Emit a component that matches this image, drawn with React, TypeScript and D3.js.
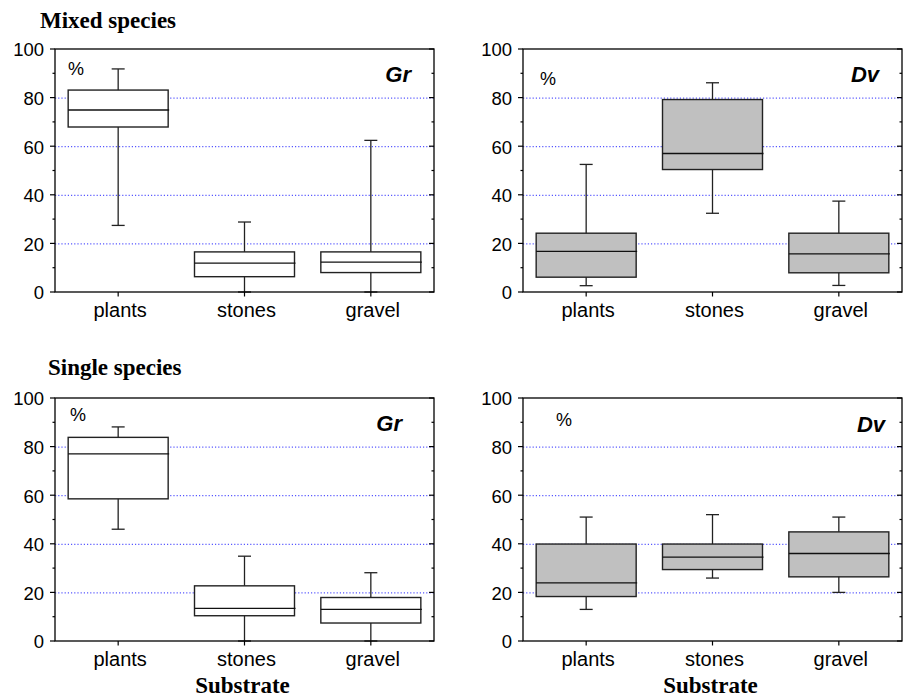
import { useEffect, useRef } from 'react';
import * as d3 from 'd3';

// box stats per substrate: [low whisker, Q1, median, Q3, high whisker]
const categories = ['plants', 'stones', 'gravel'];
const mixedGr = [
    [27.4, 67.9, 74.9, 83.1, 91.8],
    [0, 6.3, 11.9, 16.5, 28.8],
    [0, 8.0, 12.3, 16.5, 62.4],
];
const mixedDv = [
    [2.6, 6.1, 16.7, 24.2, 52.5],
    [32.4, 50.4, 57.0, 79.2, 86.1],
    [2.7, 7.9, 15.7, 24.2, 37.4],
];
const singleGr = [
    [46.0, 58.5, 77.0, 83.8, 88.1],
    [0, 10.4, 13.4, 22.7, 34.9],
    [0, 7.4, 13.0, 17.9, 28.1],
];
const singleDv = [
    [13.0, 18.3, 23.9, 39.9, 51.0],
    [25.9, 29.4, 34.5, 39.9, 52.0],
    [20.0, 26.4, 36.0, 44.9, 51.0],
];
const yTicks = [0, 20, 40, 60, 80, 100];
const yMinor = [10, 30, 50, 70, 90];
const gridLines = [20, 40, 60, 80];

const W = 906, H = 697;
const PW = 379, PH = 243;

const panels = [
    { data: mixedGr, label: 'Gr', fill: '#ffffff', x: 55, y: 49, pct: [13, 26], sp: [23, 33], title: 'Mixed species', titlePos: [40, 28] },
    { data: mixedDv, label: 'Dv', fill: '#c0c0c0', x: 523, y: 49, pct: [17, 36], sp: [23, 33] },
    { data: singleGr, label: 'Gr', fill: '#ffffff', x: 55, y: 398, pct: [15, 23], sp: [32, 33], title: 'Single species', titlePos: [48, 375], xTitle: 'Substrate' },
    { data: singleDv, label: 'Dv', fill: '#c0c0c0', x: 523, y: 398, pct: [33, 28], sp: [17, 34], xTitle: 'Substrate' },
];

const SANS = '"Liberation Sans", Arial, Helvetica, sans-serif';
const SERIF = '"Liberation Serif", "Times New Roman", serif';

function App() {
    const svgRef = useRef(null);

    useEffect(() => {
        const svg = d3.select(svgRef.current);
        svg.selectAll('*').remove();

        const x = d3.scaleBand().domain(categories).range([0, PW]).padding(0);
        const y = d3.scaleLinear().domain([0, 100]).range([PH, 0]);
        const boxW = 100;
        const capW = 13;

        panels.forEach((p) => {
            if (p.title) {
                svg.append('text')
                    .attr('x', p.titlePos[0])
                    .attr('y', p.titlePos[1])
                    .attr('font-family', SERIF)
                    .attr('font-weight', 'bold')
                    .attr('font-size', 23)
                    .text(p.title);
            }

            const g = svg.append('g').attr('transform', `translate(${p.x},${p.y})`);

            // dotted grid
            g.selectAll('.grid')
                .data(gridLines)
                .enter().append('line')
                .attr('x1', 0).attr('x2', PW)
                .attr('y1', (d) => y(d) + 0.5).attr('y2', (d) => y(d) + 0.5)
                .attr('stroke', '#2f2fff')
                .attr('stroke-width', 1)
                .attr('stroke-dasharray', '1.2,2');

            // boxes
            const box = g.selectAll('.box')
                .data(p.data)
                .enter().append('g')
                .attr('transform', (d, i) => `translate(${x(categories[i]) + x.bandwidth() / 2},0)`);

            box.append('line')
                .attr('x1', 0).attr('x2', 0)
                .attr('y1', (d) => y(d[0])).attr('y2', (d) => y(d[4]))
                .attr('stroke', '#222').attr('stroke-width', 1.3);
            box.append('line')
                .attr('x1', -capW / 2).attr('x2', capW / 2)
                .attr('y1', (d) => y(d[4])).attr('y2', (d) => y(d[4]))
                .attr('stroke', '#222').attr('stroke-width', 1.3);
            box.append('line')
                .attr('x1', -capW / 2).attr('x2', capW / 2)
                .attr('y1', (d) => y(d[0])).attr('y2', (d) => y(d[0]))
                .attr('stroke', '#222').attr('stroke-width', 1.3);
            box.append('rect')
                .attr('x', -boxW / 2)
                .attr('width', boxW)
                .attr('y', (d) => y(d[3]))
                .attr('height', (d) => y(d[1]) - y(d[3]))
                .attr('fill', p.fill)
                .attr('stroke', '#222')
                .attr('stroke-width', 1.4);
            box.append('line')
                .attr('x1', -boxW / 2).attr('x2', boxW / 2 + 1)
                .attr('y1', (d) => y(d[2])).attr('y2', (d) => y(d[2]))
                .attr('stroke', '#111').attr('stroke-width', 1.3);

            // frame
            g.append('rect')
                .attr('width', PW).attr('height', PH)
                .attr('fill', 'none')
                .attr('stroke', '#000')
                .attr('stroke-width', 1.3);

            // left axis ticks (outward)
            g.selectAll('.ytick')
                .data(yTicks)
                .enter().append('line')
                .attr('x1', -5).attr('x2', 0)
                .attr('y1', (d) => y(d)).attr('y2', (d) => y(d))
                .attr('stroke', '#000').attr('stroke-width', 1.2);
            g.selectAll('.yminor')
                .data(yMinor)
                .enter().append('line')
                .attr('x1', -2.5).attr('x2', 0)
                .attr('y1', (d) => y(d)).attr('y2', (d) => y(d))
                .attr('stroke', '#000').attr('stroke-width', 1.2);
            // right axis ticks (inward)
            g.selectAll('.rtick')
                .data(yTicks)
                .enter().append('line')
                .attr('x1', PW - 5).attr('x2', PW)
                .attr('y1', (d) => y(d)).attr('y2', (d) => y(d))
                .attr('stroke', '#000').attr('stroke-width', 1.2);
            g.selectAll('.rminor')
                .data(yMinor)
                .enter().append('line')
                .attr('x1', PW - 2.5).attr('x2', PW)
                .attr('y1', (d) => y(d)).attr('y2', (d) => y(d))
                .attr('stroke', '#000').attr('stroke-width', 1.2);

            g.selectAll('.ylab')
                .data(yTicks)
                .enter().append('text')
                .attr('x', -11)
                .attr('y', (d) => y(d) + 1)
                .attr('dy', '0.35em')
                .attr('text-anchor', 'end')
                .attr('font-family', SANS)
                .attr('font-size', 18.5)
                .text((d) => d);

            // category ticks and labels
            g.selectAll('.xtick')
                .data(categories)
                .enter().append('line')
                .attr('x1', (d) => x(d) + x.bandwidth() / 2)
                .attr('x2', (d) => x(d) + x.bandwidth() / 2)
                .attr('y1', PH).attr('y2', PH + 4.5)
                .attr('stroke', '#000').attr('stroke-width', 1.2);
            g.selectAll('.xlab')
                .data(categories)
                .enter().append('text')
                .attr('x', (d) => x(d) + x.bandwidth() / 2 + 2)
                .attr('y', PH + 25)
                .attr('text-anchor', 'middle')
                .attr('font-family', SANS)
                .attr('font-size', 20)
                .text((d) => d);

            g.append('text')
                .attr('x', p.pct[0]).attr('y', p.pct[1])
                .attr('font-family', SANS)
                .attr('font-size', 18)
                .text('%');

            g.append('text')
                .attr('x', PW - p.sp[0]).attr('y', p.sp[1])
                .attr('text-anchor', 'end')
                .attr('font-family', SANS)
                .attr('font-weight', 'bold')
                .attr('font-style', 'italic')
                .attr('font-size', 22)
                .text(p.label);

            if (p.xTitle) {
                g.append('text')
                    .attr('x', PW / 2 - 2)
                    .attr('y', PH + 52)
                    .attr('text-anchor', 'middle')
                    .attr('font-family', SERIF)
                    .attr('font-weight', 'bold')
                    .attr('font-size', 23)
                    .text(p.xTitle);
            }
        });
    }, []);

    return (
        <svg
            ref={svgRef}
            width={W}
            height={H}
            style={{ position: 'fixed', left: 0, top: 0, background: '#fff', display: 'block' }}
        />
    );
}

export default App;
